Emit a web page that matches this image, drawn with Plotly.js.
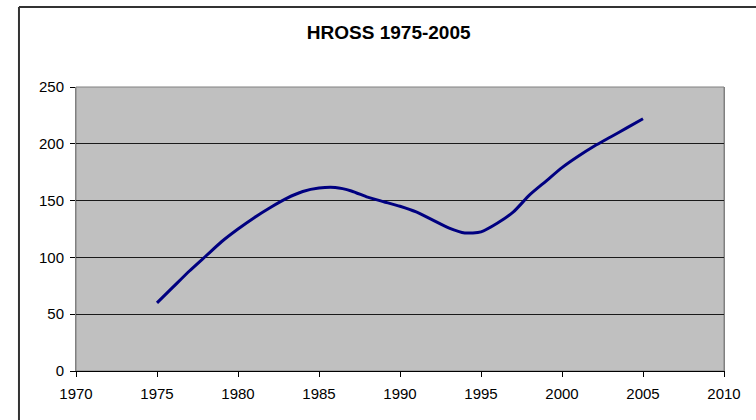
<!DOCTYPE html>
<html>
<head>
<meta charset="utf-8">
<script src="https://cdn.plot.ly/plotly-3.0.1.min.js"></script>
<style>html,body{margin:0;padding:0;background:#fff;}#chart{width:756px;height:420px;}</style>
</head>
<body>
<div id="chart"></div>
<script>
const years = [1975,1976,1977,1978,1979,1980,1981,1982,1983,1984,1985,1986,1987,1988,1989,1990,1991,1992,1993,1994,1995,1996,1997,1998,1999,2000,2001,2002,2003,2004,2005];
const hross = [60,74,88,101,114,125,135,144,152,158,161,161.5,158.5,153,149,145,140,133,126,121.5,122.5,130,140,155,167,179,189,198,206,214,222];
const xTicks = [1970,1975,1980,1985,1990,1995,2000,2005,2010];
const yTicks = [0,50,100,150,200,250];
const chartTitle = 'HROSS 1975-2005';

const font = {family: '"Liberation Sans", Arial, sans-serif', size: 15, color: '#000'};

const trace = {
  x: years, y: hross, type: 'scatter', mode: 'lines',
  line: {color: '#000080', width: 3, shape: 'spline', smoothing: 0.6},
  hoverinfo: 'skip'
};

const layout = {
  width: 756, height: 420,
  margin: {l: 76, r: 32, t: 87, b: 49, pad: 0},
  paper_bgcolor: '#ffffff',
  plot_bgcolor: '#c0c0c0',
  font: font,
  showlegend: false,
  title: {text: '<b>' + chartTitle + '</b>', font: {family: font.family, size: 19, color: '#000'}, x: 0.4826, xref: 'paper', xanchor: 'center', y: 0.923, yanchor: 'middle'},
  xaxis: {
    range: [1970, 2010], tickvals: xTicks, ticktext: xTicks.map(String),
    showgrid: false, zeroline: false, showline: true, linecolor: '#000', linewidth: 1,
    ticks: 'outside', ticklen: 5, tickcolor: '#000', tickfont: font, ticklabelstandoff: 4, fixedrange: true
  },
  yaxis: {
    range: [0, 250], tickvals: yTicks, ticktext: yTicks.map(String),
    showgrid: true, gridcolor: '#1a1a1a', gridwidth: 1, zeroline: false,
    showline: true, linecolor: '#808080', linewidth: 1, mirror: true,
    ticks: 'outside', ticklen: 5, tickcolor: '#000', tickfont: font, ticklabelstandoff: 3, fixedrange: true
  },
  shapes: [
    {type: 'rect', xref: 'paper', yref: 'paper', x0: 0, x1: 1, y0: 0, y1: 1, line: {color: '#808080', width: 1}, layer: 'below'},
    {type: 'line', xref: 'paper', yref: 'paper', x0: -0.088, x1: -0.088, y0: -0.3, y1: 1.2817, line: {color: '#333333', width: 2}},
    {type: 'line', xref: 'paper', yref: 'paper', x0: -0.088, x1: 1.2, y0: 1.2817, y1: 1.2817, line: {color: '#333333', width: 2}}
  ]
};

Plotly.newPlot('chart', [trace], layout, {displayModeBar: false, staticPlot: true});
</script>
</body>
</html>
